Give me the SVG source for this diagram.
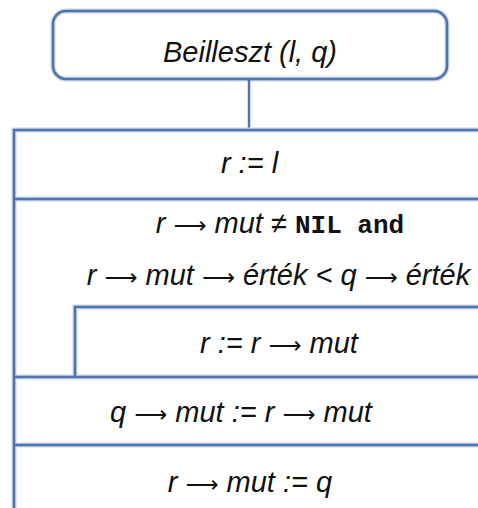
<svg xmlns="http://www.w3.org/2000/svg" width="478" height="508" viewBox="0 0 478 508">
  <style>
    .frame { fill: none; stroke: #4f74a8; stroke-width: 2.5; }
    .halo { fill: none; stroke: #c9d6ea; stroke-width: 5; }
    .t { font-family: "Liberation Sans", Arial, sans-serif; font-style: italic; font-size: 29px; fill: #111; text-anchor: middle; }
    .m { font-family: "Liberation Mono", "Courier New", monospace; font-style: normal; font-weight: bold; font-size: 26px; }
    .a { font-family: "DejaVu Sans", sans-serif; font-style: normal; font-size: 23px; }
  </style>
  <rect width="478" height="508" fill="#ffffff"/>

  <!-- procedure header -->
  <g id="header">
    <rect class="halo" x="53" y="11" width="394" height="68" rx="13"/>
    <rect class="frame" x="53" y="11" width="394" height="68" rx="13"/>
    <text class="t" x="250" y="62">Beilleszt (l, q)</text>
  </g>

  <!-- link from header to body -->
  <g id="connectors">
    <line class="frame" x1="249" y1="79" x2="249" y2="130"/>
  </g>

  <!-- structogram body -->
  <g id="body">
    <path class="halo" d="M14 510 V130 H480 M14 199 H480 M75 377 V307 H480 M14 377 H480 M14 445 H480"/>
    <path class="frame" d="M14 510 V130 H480 M14 199 H480 M75 377 V307 H480 M14 377 H480 M14 445 H480"/>
  </g>

  <g id="assign-r">
    <text class="t" x="249.5" y="173">r := l</text>
  </g>

  <g id="loop-condition">
    <text class="t" x="280" y="233">r <tspan class="a">⟶</tspan> mut ≠ <tspan class="m">NIL and</tspan></text>
    <text class="t" x="278.5" y="285">r <tspan class="a">⟶</tspan> mut <tspan class="a">⟶</tspan> érték &lt; q <tspan class="a">⟶</tspan> érték</text>
  </g>

  <g id="loop-step">
    <text class="t" x="279" y="353">r := r <tspan class="a">⟶</tspan> mut</text>
  </g>

  <g id="link-q">
    <text class="t" x="241" y="422">q <tspan class="a">⟶</tspan> mut := r <tspan class="a">⟶</tspan> mut</text>
  </g>

  <g id="link-r">
    <text class="t" x="250" y="492">r <tspan class="a">⟶</tspan> mut := q</text>
  </g>
</svg>
